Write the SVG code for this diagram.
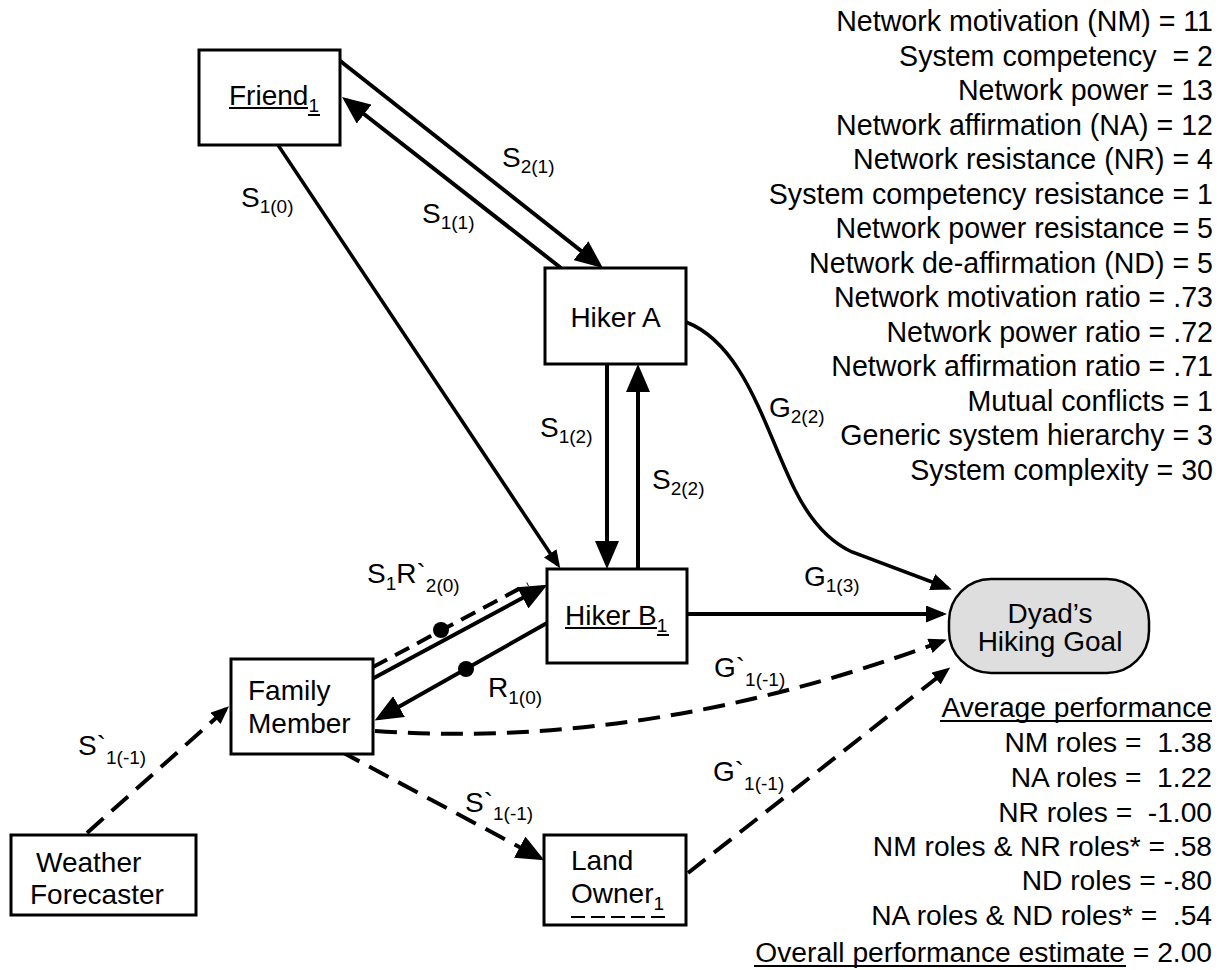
<svg xmlns="http://www.w3.org/2000/svg" width="1229" height="970" viewBox="0 0 1229 970">
  <style>
    text { font-family: "Liberation Sans", Arial, sans-serif; font-size: 28px; fill: #000; }
    .sub { font-size: 19px; }
    .box { fill: #fff; stroke: #000; stroke-width: 3; }
    .goal { fill: #dedede; stroke: #000; stroke-width: 2.5; }
    .solid { fill: none; stroke: #000; stroke-width: 4; }
    .thin { fill: none; stroke: #000; stroke-width: 3.5; }
    .dash { fill: none; stroke: #000; stroke-width: 4; stroke-dasharray: 22 11; }
    .dash2 { fill: none; stroke: #000; stroke-width: 4; stroke-dasharray: 16 9; }
    .ul { stroke: #000; stroke-width: 2; }
    .end { text-anchor: end; white-space: pre; }
    #network-stats text { font-size: 28.6px; }
    #performance text { font-size: 28.2px; }
  </style>
  <defs>
    <marker id="ahL" markerUnits="userSpaceOnUse" viewBox="0 0 28 24" markerWidth="28" markerHeight="24" refX="23" refY="12" orient="auto">
      <path d="M0,0 L28,12 L0,24 Z" fill="#000"/>
    </marker>
    <marker id="ahM" markerUnits="userSpaceOnUse" viewBox="0 0 21 17" markerWidth="21" markerHeight="17" refX="17" refY="8.5" orient="auto">
      <path d="M0,0 L21,8.5 L0,17 Z" fill="#000"/>
    </marker>
    <marker id="ahS" markerUnits="userSpaceOnUse" viewBox="0 0 18 15" markerWidth="18" markerHeight="15" refX="14" refY="7.5" orient="auto">
      <path d="M0,0 L18,7.5 L0,15 Z" fill="#000"/>
    </marker>
  </defs>

  <!-- connectors -->
  <g id="connectors">
    <path class="solid" d="M339,60 L599,265" marker-end="url(#ahL)"/>
    <path class="solid" d="M561,268 L346,100" marker-end="url(#ahL)"/>
    <path class="thin" d="M278,145 L558,565" marker-end="url(#ahS)"/>
    <path class="solid" d="M607,364 L607,564" marker-end="url(#ahL)"/>
    <path class="solid" d="M638,569 L638,369" marker-end="url(#ahL)"/>
    <path class="thin" d="M686,322 C745,345 765,430 795,490 C808,516 826,540 852,552 L948,588" marker-end="url(#ahM)"/>
    <path class="solid" d="M687,614 L943,614" marker-end="url(#ahM)"/>
    <path class="dash" d="M375,731 Q650,750 943,641" marker-end="url(#ahS)"/>
    <path class="dash" d="M688,873 L947,670" marker-end="url(#ahS)"/>
    <path class="dash" d="M87,833 L226,709" marker-end="url(#ahS)"/>
    <path class="dash" d="M340,751 L540,858" marker-end="url(#ahL)"/>
    <path class="solid" d="M372,679 L543,587" marker-end="url(#ahL)"/>
    <path class="dash2" d="M373,667 L528,584"/>
    <circle cx="441" cy="630" r="8" fill="#000"/>
    <path class="solid" d="M547,623 L379,718" marker-end="url(#ahL)"/>
    <circle cx="466" cy="669" r="8" fill="#000"/>

    <!-- connector labels -->
    <text x="502" y="167">S<tspan class="sub" dy="6">2(1)</tspan></text>
    <text x="422" y="223">S<tspan class="sub" dy="6">1(1)</tspan></text>
    <text x="241" y="207">S<tspan class="sub" dy="6">1(0)</tspan></text>
    <text x="540" y="437">S<tspan class="sub" dy="6">1(2)</tspan></text>
    <text x="652" y="489">S<tspan class="sub" dy="6">2(2)</tspan></text>
    <text x="769" y="417">G<tspan class="sub" dy="6">2(2)</tspan></text>
    <text x="804" y="586">G<tspan class="sub" dy="6">1(3)</tspan></text>
    <text x="714" y="677">G`<tspan class="sub" dy="9">1(-1)</tspan></text>
    <text x="713" y="781">G`<tspan class="sub" dy="9">1(-1)</tspan></text>
    <text x="78" y="755">S`<tspan class="sub" dy="9">1(-1)</tspan></text>
    <text x="465" y="812">S`<tspan class="sub" dy="8">1(-1)</tspan></text>
    <text x="367" y="583">S<tspan class="sub" dy="7">1</tspan><tspan dy="-7">R`</tspan><tspan class="sub" dy="9">2(0)</tspan></text>
    <text x="488" y="697">R<tspan class="sub" dy="7">1(0)</tspan></text>
  </g>

  <!-- nodes -->
  <g id="friend">
    <rect class="box" x="199" y="50" width="141" height="95"/>
    <text x="229" y="105">Friend<tspan class="sub" dy="7">1</tspan></text>
    <line class="ul" x1="229" y1="108" x2="308" y2="108"/>
    <line class="ul" x1="308" y1="115" x2="320" y2="115"/>
  </g>

  <g id="hiker-a">
    <rect class="box" x="545" y="268" width="141" height="96"/>
    <text x="615.5" y="327" text-anchor="middle">Hiker A</text>
  </g>

  <g id="hiker-b">
    <rect class="box" x="547" y="569" width="140" height="94"/>
    <text x="565" y="625">Hiker B<tspan class="sub" dy="7">1</tspan></text>
    <line class="ul" x1="565" y1="628" x2="657" y2="628"/>
    <line class="ul" x1="657" y1="635" x2="669" y2="635"/>
  </g>

  <g id="family-member">
    <rect class="box" x="231" y="659" width="142" height="95"/>
    <text x="248" y="700">Family</text>
    <text x="248" y="733">Member</text>
  </g>

  <g id="weather-forecaster">
    <rect class="box" x="11" y="835" width="185" height="80"/>
    <text x="36" y="872">Weather</text>
    <text x="30" y="904">Forecaster</text>
  </g>

  <g id="land-owner">
    <rect class="box" x="544" y="835" width="142" height="90"/>
    <text x="571" y="870">Land</text>
    <text x="571" y="903">Owner<tspan class="sub" dy="7">1</tspan></text>
    <line class="ul" x1="571" y1="917" x2="665" y2="917" stroke-width="3" stroke-dasharray="14 6"/>
  </g>

  <g id="dyad-goal">
    <rect class="goal" x="949" y="579" width="200" height="94" rx="42" ry="42"/>
    <text x="1050" y="623" text-anchor="middle">Dyad’s</text>
    <text x="1050" y="651" text-anchor="middle">Hiking Goal</text>
  </g>

  <!-- network statistics -->
  <g id="network-stats">
    <text class="end" x="1213" y="31">Network motivation (NM) = 11</text>
    <text class="end" x="1213" y="65.5">System competency  = 2</text>
    <text class="end" x="1213" y="100">Network power = 13</text>
    <text class="end" x="1213" y="134.5">Network affirmation (NA) = 12</text>
    <text class="end" x="1213" y="169">Network resistance (NR) = 4</text>
    <text class="end" x="1213" y="203.5">System competency resistance = 1</text>
    <text class="end" x="1213" y="238">Network power resistance = 5</text>
    <text class="end" x="1213" y="272.5">Network de-affirmation (ND) = 5</text>
    <text class="end" x="1213" y="307">Network motivation ratio = .73</text>
    <text class="end" x="1213" y="341.5">Network power ratio = .72</text>
    <text class="end" x="1213" y="376">Network affirmation ratio = .71</text>
    <text class="end" x="1213" y="410.5">Mutual conflicts = 1</text>
    <text class="end" x="1213" y="445">Generic system hierarchy = 3</text>
    <text class="end" x="1213" y="479.5">System complexity = 30</text>
  </g>

  <!-- performance summary -->
  <g id="performance">
    <text class="end" x="1212" y="717">Average performance</text>
    <line class="ul" x1="940" y1="721" x2="1212" y2="721"/>
    <text class="end" x="1212" y="752">NM roles =  1.38</text>
    <text class="end" x="1212" y="787">NA roles =  1.22</text>
    <text class="end" x="1212" y="822">NR roles =  -1.00</text>
    <text class="end" x="1212" y="856">NM roles &amp; NR roles* = .58</text>
    <text class="end" x="1212" y="890">ND roles = -.80</text>
    <text class="end" x="1212" y="925">NA roles &amp; ND roles* =  .54</text>
    <text class="end" x="1212" y="962">Overall performance estimate = 2.00</text>
    <line class="ul" x1="754" y1="966" x2="1126" y2="966"/>
  </g>
</svg>
